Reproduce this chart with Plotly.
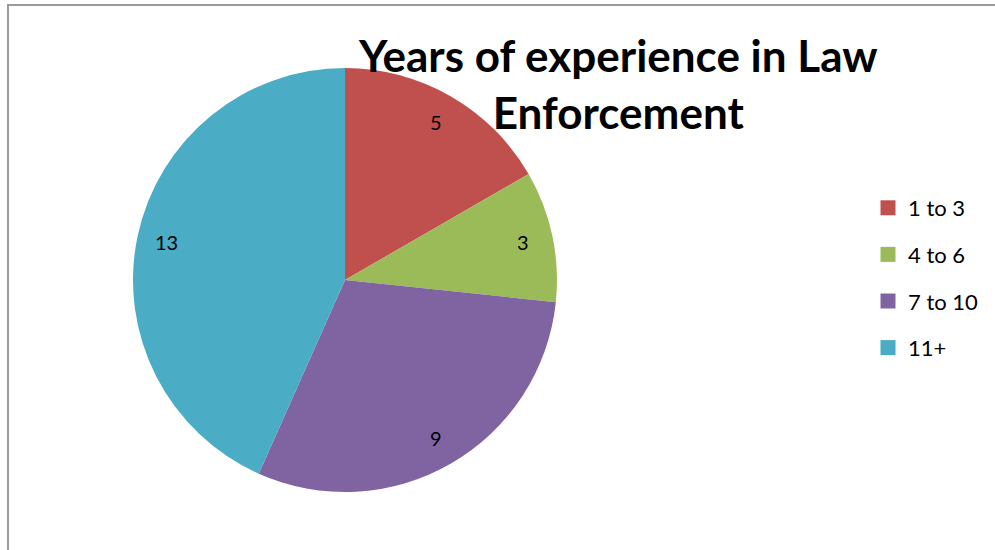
import math
import plotly.graph_objects as go

labels = ["1 to 3", "4 to 6", "7 to 10", "11+"]
values = [5, 3, 9, 13]
colors = ["#C0504D", "#9BBB59", "#8064A2", "#4BACC6"]
title_text = "Years of experience in Law<br>Enforcement"

W, H = 995, 550
CX, CY, R = 345, 280, 212
FONT = "Lato, 'Open Sans', sans-serif"

fig = go.Figure()
fig.add_trace(go.Pie(
    labels=labels, values=values, sort=False, direction="clockwise", rotation=0,
    marker=dict(colors=colors, line=dict(width=0)),
    textinfo="none", hoverinfo="label+value",
    domain=dict(x=[(CX - R) / W, (CX + R) / W], y=[1 - (CY + R) / H, 1 - (CY - R) / H]),
    showlegend=False,
))

# legend via dummy traces so spacing can be controlled
for i, (lab, col) in enumerate(zip(labels, colors)):
    fig.add_trace(go.Scatter(x=[None], y=[None], mode="markers", name=lab,
                             marker=dict(symbol="square", size=15, color=col),
                             legendgroup=f"g{i}", showlegend=True))

# data labels computed from values
total = sum(values)
cum = 0
annotations = []
for v in values:
    mid = (cum + v / 2) / total * 2 * math.pi
    cum += v
    r = 0.86 * R
    px = CX + r * math.sin(mid)
    py = CY - r * math.cos(mid)
    annotations.append(dict(x=px / W, y=1 - py / H, xref="paper", yref="paper",
                            text=str(v), showarrow=False,
                            xanchor="center", yanchor="middle",
                            font=dict(family=FONT, size=20, color="#000000")))

annotations.append(dict(x=618 / W, y=1 - 84 / H, xref="paper", yref="paper",
                        text="<b>" + title_text + "</b>", showarrow=False,
                        xanchor="center", yanchor="middle",
                        font=dict(family=FONT, size=44, color="#000000")))

fig.update_layout(
    width=W, height=H,
    margin=dict(l=0, r=0, t=0, b=0),
    paper_bgcolor="white", plot_bgcolor="white",
    xaxis=dict(visible=False), yaxis=dict(visible=False),
    annotations=annotations,
    legend=dict(x=868 / W, y=1 - 187 / H, xanchor="left", yanchor="top",
                font=dict(family=FONT, size=22, color="#000000"),
                tracegroupgap=15, itemwidth=30, bgcolor="rgba(0,0,0,0)"),
    shapes=[dict(type="rect", xref="paper", yref="paper",
                 x0=8 / W, x1=1.01, y0=-0.01, y1=1 - 5 / H,
                 line=dict(color="#9a9a9a", width=2), layer="below")],
)

fig.write_html("out.html")
